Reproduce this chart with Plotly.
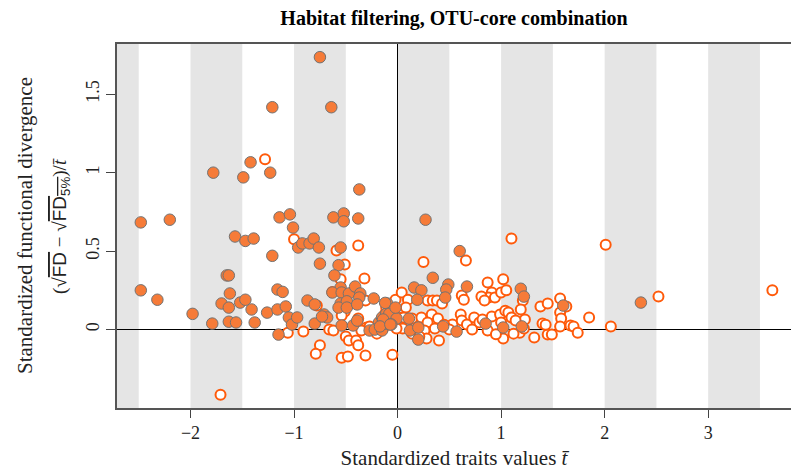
import numpy as np
import plotly.graph_objects as go

# Significant OTU-core combinations (filled symbols)
sig_t = [-2.48, -2.20, -1.78, -1.49, -1.42, -1.23, -1.21, -0.75, -0.64, -0.37,
         -1.14, -1.04, -1.01, -0.62, -0.52, -0.52, -0.38, -1.57, -1.47, -1.39,
         -0.96, -0.92, -0.85, -0.81, -0.76, -0.55, -1.21, -0.75, -0.57, -0.61,
         -1.65, -1.63, -2.48, -2.32, -1.98, -1.79, -1.63, -1.56, -1.38, -1.62,
         -1.70, -1.63, -1.52, -1.47, -1.41, -1.26, -1.16, -1.11, -1.16, -1.08,
         -1.05, -1.15, -1.02, -0.97, -0.87, -0.80, -0.80, -0.71, -0.68, -0.73,
         -0.55, -0.63, -0.54, -0.47, -0.41, -0.36, -0.37, -0.23, -0.55, -0.49,
         -0.57, -0.49, -0.39, -0.54, -0.43, -0.39, -0.18, -0.15, -0.11, -0.10,
         -0.12, -0.27, -0.22, -0.15, -0.11, -0.08, -0.01, -0.14, -0.17, -0.06,
         0.27, 0.60, 0.34, 0.16, 0.23, 0.49, 0.47, 0.46, 0.67, 0.19,
         -0.02, 0.11, 0.12, 0.20, 0.44, 0.57, 0.85, 1.02, 1.20, 0.20,
         -0.07, 1.19, 1.22, 1.60, 2.35]
sig_fd = [0.683, 0.70, 1.00, 0.97, 1.066, 1.00, 1.417, 1.736, 1.417, 0.893,
          0.715, 0.734, 0.65, 0.715, 0.74, 0.69, 0.708, 0.593, 0.565, 0.58,
          0.523, 0.549, 0.549, 0.58, 0.523, 0.523, 0.47, 0.42, 0.41, 0.345,
          0.345, 0.345, 0.25, 0.19, 0.10, 0.038, 0.05, 0.045, 0.045, 0.23,
          0.166, 0.14, 0.172, 0.19, 0.128, 0.108, 0.255, 0.24, 0.128, 0.147,
          0.077, -0.032, 0.032, 0.077, 0.185, 0.16, 0.038, 0.096, 0.077, 0.083,
          0.268, 0.236, 0.236, 0.23, 0.274, 0.23, 0.204, 0.198, 0.166, 0.18,
          0.14, 0.14, 0.16, 0.026, 0.026, 0.057, 0.045, 0.077, 0.10, 0.166,
          0.17, -0.006, 0.0, -0.006, 0.038, 0.10, 0.07, 0.064, 0.02, 0.032,
          0.70, 0.50, 0.33, 0.268, 0.25, 0.287, 0.255, 0.204, 0.274, 0.19,
          0.14, 0.07, -0.006, 0.013, 0.02, -0.013, 0.038, 0.013, 0.02, -0.064,
          0.032, 0.26, 0.21, 0.153, 0.172]

# Non-significant OTU-core combinations (open symbols)
ns_t = [-1.28, -1.00, -0.59, -0.38, -0.51, -0.55, -0.32, -0.31,
        -1.71, -1.06, -0.91, -0.78, -0.75, -0.79, -0.66, -0.62,
        -0.54, -0.48, -0.31, -0.05,
        -0.63, -0.51, -0.54, -0.38, -0.50, -0.47, -0.40, -0.38,
        -0.30, -0.35, -0.27, -0.20, -0.14, -0.12, -0.11, -0.02, 0.01, -0.05,
        0.09, 0.10,
        1.10, 2.01, 0.66, 0.25, 0.04, 0.10, 0.29, 0.34, 0.38, 0.43, 0.08,
        0.62, 0.64, 0.87, 1.02, 0.91, 0.88, 0.94, 1.00, 1.05, 0.81, 0.84,
        1.21, 1.19, 1.23, 1.38, 1.45, 1.57, 1.63, 1.57, 1.58, 1.57,
        1.67, 1.70, 1.74, 1.85, 2.06, 2.52, 3.62,
        1.32, 1.45, 1.49, 1.02, 0.40,
        0.06, 0.14, 0.23, 0.33, 0.39, 0.29, 0.36, 0.26, 0.14, 0.05, -0.01, 0.28, 0.21,
        0.53, 0.61, 0.62, 0.67, 0.74, 0.79, 0.82, 0.87, 0.91, 0.99, 1.00, 1.04,
        1.07, 1.10, 1.14, 1.18, 1.12, 1.22,
        0.45, 0.50, 0.72, 0.95, 1.40, 1.43]
ns_fd = [1.085, 0.575, 0.504, 0.536, 0.415, 0.32, 0.325, 0.185,
         -0.415, -0.02, -0.013, 0.153, -0.10, -0.155, 0.0, -0.006,
         -0.18, -0.172, -0.166, -0.16,
         0.24, 0.115, 0.09, 0.07, -0.045, -0.07, -0.07, -0.10,
         0.013, -0.006, 0.02, -0.026, 0.006, 0.10, 0.14, 0.19, 0.077, 0.038,
         0.057, 0.006,
         0.58, 0.54, 0.44, 0.43, 0.236, 0.19, 0.185, 0.185, 0.185, 0.166, 0.14,
         0.217, 0.19, 0.30, 0.32, 0.236, 0.204, 0.204, 0.236, 0.25, 0.21, 0.185,
         0.185, 0.128, 0.064, 0.147, 0.166, 0.198, 0.147, 0.108, 0.07, 0.02,
         0.026, 0.02, -0.02, 0.077, 0.02, 0.21, 0.25,
         -0.05, -0.032, -0.032, -0.057, -0.07,
         0.077, 0.07, 0.077, 0.096, 0.07, 0.045, 0.006, -0.006, -0.026, 0.006, 0.006, -0.057, -0.045,
         0.032, 0.096, 0.057, 0.032, 0.077, 0.045, 0.064, -0.006, 0.083, 0.096, 0.045, 0.12,
         0.108, 0.077, 0.057, -0.02, -0.026, 0.006,
         0.03, 0.0, 0.0, -0.03, 0.038, 0.03]

x_ticks = [-2, -1, 0, 1, 2, 3]
y_ticks = [0, 0.5, 1, 1.5]
x_range = [-2.71, 3.80]
y_range = [-0.50, 1.82]

serif = "Liberation Serif, Times New Roman, serif"

fig = go.Figure()

fig.add_trace(go.Scatter(
    x=ns_t, y=ns_fd, mode="markers", showlegend=False,
    marker=dict(size=10, color="white", symbol="circle",
                line=dict(color="#ff5a0a", width=2)),
))
fig.add_trace(go.Scatter(
    x=sig_t, y=sig_fd, mode="markers", showlegend=False,
    marker=dict(size=11.5, color="#f67b38", symbol="circle",
                line=dict(color="#727272", width=1)),
))

# alternating grey bands every half unit along x
shapes = []
for start in np.arange(-3.0, 4.0, 1.0):
    shapes.append(dict(type="rect", xref="x", yref="paper",
                       x0=start, x1=start + 0.5, y0=0, y1=1,
                       fillcolor="#e5e5e5", line=dict(width=0), layer="below"))

ytitle2 = ("(√<span style='text-decoration:overline;font-family:Liberation Sans'>FD</span>"
           " − √<span style='text-decoration:overline;font-family:Liberation Sans'>FD"
           "<sub>5%</sub></span>)/<i>t̄</i>")

fig.update_layout(
    width=791, height=473,
    margin=dict(l=117, r=0, t=44, b=65),
    paper_bgcolor="white", plot_bgcolor="white",
    shapes=shapes,
    title=dict(text="<b>Habitat filtering, OTU-core combination</b>",
               x=0.574, xanchor="center", y=0.962, yanchor="middle",
               font=dict(family=serif, size=20, color="black")),
    xaxis=dict(range=x_range, tickvals=x_ticks, ticks="outside", ticklen=8,
               tickcolor="#444", tickwidth=1, showgrid=False,
               showline=True, linecolor="#555", linewidth=1.5, mirror=True,
               zeroline=True, zerolinecolor="black", zerolinewidth=1,
               tickfont=dict(family=serif, size=18, color="#222"),
               title=dict(text="Standardized traits values <i>t̄</i>",
                          font=dict(family=serif, size=21, color="#222"),
                          standoff=8)),
    yaxis=dict(range=y_range, tickvals=y_ticks, ticktext=["0", "0.5", "1", "1.5"],
               ticks="outside", ticklen=9, tickcolor="#444", tickwidth=1,
               tickangle=-90, showgrid=False,
               showline=True, linecolor="#555", linewidth=1.5,
               zeroline=True, zerolinecolor="black", zerolinewidth=1,
               tickfont=dict(family=serif, size=18, color="#222")),
    annotations=[
        dict(text="Standardized functional divergence", xref="paper", yref="paper",
             x=(25 - 117) / 674, y=0.5, xanchor="center", yanchor="middle",
             textangle=-90, showarrow=False,
             font=dict(family=serif, size=21, color="#222")),
        dict(text=ytitle2, xref="paper", yref="paper",
             x=(61 - 117) / 674, y=0.5, xanchor="center", yanchor="middle",
             textangle=-90, showarrow=False,
             font=dict(family=serif, size=19, color="#222")),
    ],
)

fig.write_html("out.html")
